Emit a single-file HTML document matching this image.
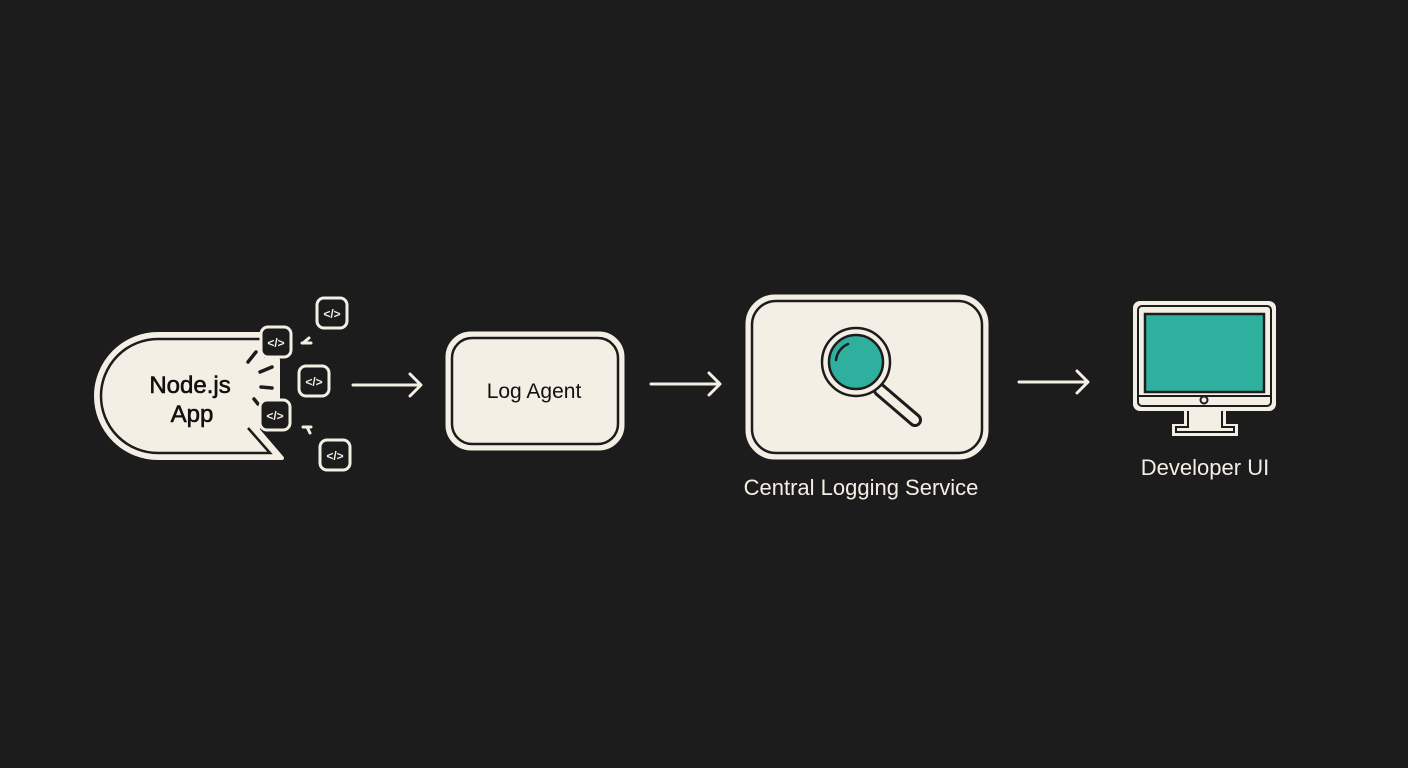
<!DOCTYPE html>
<html><head><meta charset="utf-8"><style>
html,body{margin:0;padding:0;background:#1c1c1c;}
svg{display:block}
text{font-family:"Liberation Sans",sans-serif;}
</style></head><body>
<svg width="1408" height="768" viewBox="0 0 1408 768" xmlns="http://www.w3.org/2000/svg">
<defs>
<g id="ic">
<rect x="0" y="0" width="30" height="30" rx="7" fill="#1c1c1c" stroke="#f4efe4" stroke-width="3"/>
<text x="15" y="20" font-size="12" font-weight="bold" fill="#f4efe4" text-anchor="middle">&lt;/&gt;</text>
</g>
</defs>
<rect width="1408" height="768" fill="#1c1c1c"/>

<!-- Node.js App -->
<path d="M276 334 L158 334 A62 62 0 0 0 158 458 L282 458 L258 430 L258 402 L278 402 L278 360 L262 360 L262 334 Z" fill="#f4efe4" stroke="#f4efe4" stroke-width="4" stroke-linejoin="round"/>
<path d="M262 339 L158 339 A57 57 0 0 0 158 453 L270 453 L248 428" fill="none" stroke="#1c1c1c" stroke-width="2.5"/>
<g stroke="#1c1c1c" stroke-width="3.5" stroke-linecap="round">
<line x1="248" y1="362" x2="256" y2="352"/>
<line x1="260" y1="372" x2="272" y2="367"/>
<line x1="261" y1="387" x2="272" y2="388"/>
<line x1="254" y1="399" x2="258" y2="404"/>
</g>
<text x="190" y="393" font-size="24" fill="#111" stroke="#111" stroke-width="0.6" text-anchor="middle">Node.js</text>
<text x="192" y="422" font-size="24" fill="#111" stroke="#111" stroke-width="0.6" text-anchor="middle">App</text>
<use href="#ic" x="261" y="327"/>
<use href="#ic" x="299" y="366"/>
<use href="#ic" x="260" y="400"/>
<use href="#ic" x="317" y="298"/>
<use href="#ic" x="320" y="440"/>
<path d="M303 343 L309 338 M302 343 L311 343" stroke="#f4efe4" stroke-width="3" stroke-linecap="round"/>
<path d="M303 427 L311 427 M307 427 L310 433" stroke="#f4efe4" stroke-width="3" stroke-linecap="round"/>

<!-- arrows -->
<g stroke="#f4efe4" stroke-width="3" fill="none" stroke-linecap="round" stroke-linejoin="round">
<path d="M353 385 L420 385 M410 374 L421 385 L410 396"/>
<path d="M651 384 L719 384 M709 373 L720 384 L709 395"/>
<path d="M1019 382 L1087 382 M1077 371 L1088 382 L1077 393"/>
</g>

<!-- Log Agent -->
<rect x="447" y="333" width="176" height="116" rx="24" fill="#f4efe4" stroke="#f4efe4" stroke-width="3"/>
<rect x="452" y="338" width="166" height="106" rx="20" fill="#f4efe4" stroke="#1c1c1c" stroke-width="2.5"/>
<text x="534" y="398" font-size="21" fill="#111" text-anchor="middle">Log Agent</text>

<!-- Central Logging Service -->
<rect x="747" y="296" width="240" height="162" rx="28" fill="#f4efe4" stroke="#f4efe4" stroke-width="3"/>
<rect x="752" y="301" width="230" height="152" rx="24" fill="#f4efe4" stroke="#1c1c1c" stroke-width="2.5"/>
<g>
<line x1="880" y1="390" x2="915" y2="420" stroke="#1c1c1c" stroke-width="14" stroke-linecap="round"/>
<line x1="880" y1="390" x2="915" y2="420" stroke="#f4efe4" stroke-width="8" stroke-linecap="round"/>
<circle cx="856" cy="362" r="34" fill="#f4efe4" stroke="#1c1c1c" stroke-width="2.5"/>
<circle cx="856" cy="362" r="27" fill="#2fb09f" stroke="#1c1c1c" stroke-width="2.5"/>
<path d="M836 360 A20 20 0 0 1 848 344" fill="none" stroke="#1c1c1c" stroke-width="2.5" stroke-linecap="round"/>
</g>
<text x="861" y="495" font-size="22" fill="#f4efe4" text-anchor="middle">Central Logging Service</text>

<!-- Developer UI -->
<rect x="1133" y="301" width="143" height="110" rx="7" fill="#f4efe4"/>
<rect x="1138" y="306" width="133" height="100" rx="4" fill="none" stroke="#1c1c1c" stroke-width="2"/>
<rect x="1145" y="314" width="119" height="78" fill="#2fb09f" stroke="#1c1c1c" stroke-width="2.5"/>
<line x1="1138" y1="396" x2="1271" y2="396" stroke="#1c1c1c" stroke-width="2"/>
<circle cx="1204" cy="400" r="3.5" fill="none" stroke="#1c1c1c" stroke-width="2"/>
<path d="M1184 411 L1184 424 L1172 424 L1172 436 L1238 436 L1238 424 L1226 424 L1226 411 Z" fill="#f4efe4"/>
<path d="M1188 411 L1188 427 L1176 427 L1176 432 L1234 432 L1234 427 L1222 427 L1222 411" fill="none" stroke="#1c1c1c" stroke-width="2"/>
<text x="1205" y="475" font-size="22" fill="#f4efe4" text-anchor="middle">Developer UI</text>
</svg>
</body></html>
